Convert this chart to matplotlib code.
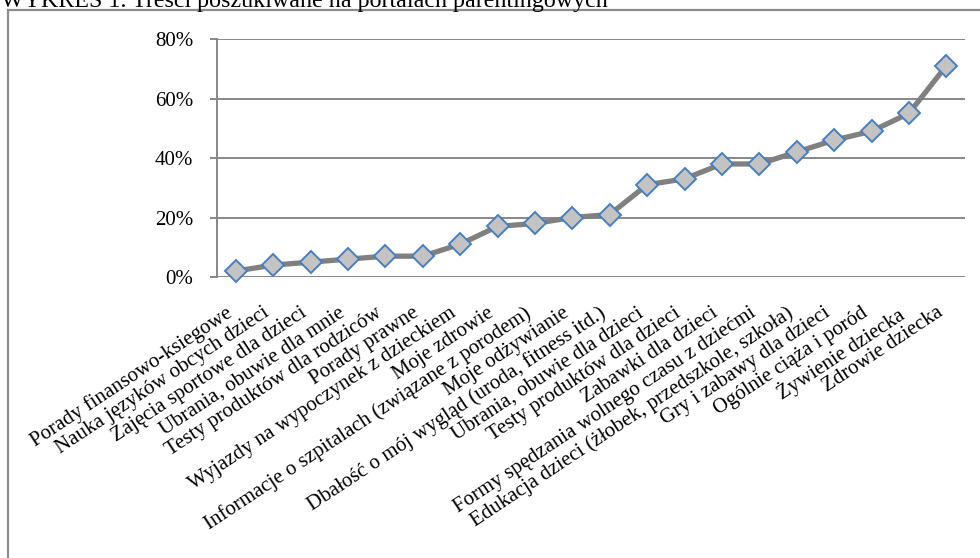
import matplotlib.pyplot as plt
import matplotlib.patches as patches
import numpy as np

# kategorie treści i odsetek wskazań (%)
kategorie = [
    "Porady finansowo-ksiegowe",
    "Nauka języków obcych dzieci",
    "Zajęcia sportowe dla dzieci",
    "Ubrania, obuwie dla mnie",
    "Testy produktów dla rodziców",
    "Porady prawne",
    "Wyjazdy na wypoczynek z dzieckiem",
    "Moje zdrowie",
    "Informacje o szpitalach (związane z porodem)",
    "Moje odżywianie",
    "Dbałość o mój wygląd (uroda, fitness itd.)",
    "Ubrania, obuwie dla dzieci",
    "Testy produktów dla dzieci",
    "Zabawki dla dzieci",
    "Formy spędzania wolnego czasu z dziećmi",
    "Edukacja dzieci (żłobek, przedszkole, szkoła)",
    "Gry i zabawy dla dzieci",
    "Ogólnie ciąża i poród",
    "Żywienie dziecka",
    "Zdrowie dziecka",
]
wartosci = [2, 4, 5, 6, 7, 7, 11, 17, 18, 20, 21, 31, 33, 38, 38, 42, 46, 49, 55, 71]
yticks = [0, 20, 40, 60, 80]

plt.rcParams['font.family'] = ['Liberation Serif', 'DejaVu Serif']

fig = plt.figure(figsize=(9.8, 5.58), dpi=100)

# tytuł ucięty u góry strony
fig.text(1 / 980, 1 - 7 / 558, "WYKRES 1. Treści poszukiwane na portalach parentingowych",
         fontsize=17.3, ha='left', va='baseline')

# ramka wykresu
fig.patches.append(patches.Rectangle((8 / 980, -0.1), 1.2, 0.1 + 1 - 10 / 558,
                                     transform=fig.transFigure, fill=False,
                                     edgecolor='#8c8c8c', linewidth=1.6))

ax = fig.add_axes([217 / 980, 1 - 277 / 558, (965 - 217) / 980, (277 - 39) / 558])

x = np.arange(len(kategorie))
ax.plot(x, wartosci, color='#808080', linewidth=3.8, marker='D', markersize=11.5,
        markerfacecolor='#c3c3c3', markeredgecolor='#4a7ebb', markeredgewidth=1.4,
        zorder=3, clip_on=False)

ax.set_xlim(-0.5, len(kategorie) - 0.5)
ax.set_ylim(0, 80)
ax.set_yticks(yticks)
ax.set_yticklabels(["%d%%" % v for v in yticks], fontsize=15)
ax.yaxis.grid(True, color='#878787', linewidth=1.4)
ax.set_axisbelow(True)

ax.set_xticks(x)
ax.set_xticklabels(kategorie, rotation=33.5, ha='right', va='top', fontsize=15)
ax.tick_params(axis='x', length=0, pad=19)
ax.tick_params(axis='y', length=5, width=1.4, color='#878787', pad=12)

for s in ['top', 'right', 'bottom']:
    ax.spines[s].set_visible(False)
ax.spines['left'].set_color('#878787')
ax.spines['left'].set_linewidth(1.4)

plt.savefig("out.png", dpi=100)
